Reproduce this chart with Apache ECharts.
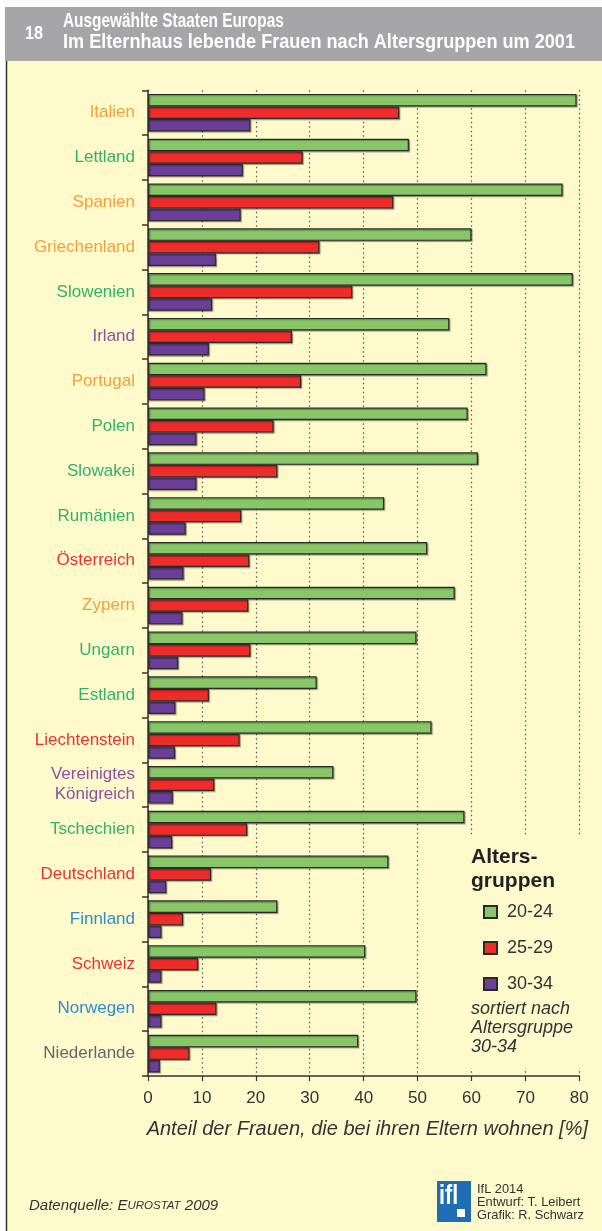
<!DOCTYPE html>
<html><head><meta charset="utf-8">
<script src="https://cdn.jsdelivr.net/npm/echarts@6/dist/echarts.min.js"></script>
<style>html,body{margin:0;padding:0;background:#fff}#c{width:602px;height:1231px}</style>
</head><body><div id="c"></div>
<script>
const countries = ['Italien','Lettland','Spanien','Griechenland','Slowenien','Irland','Portugal','Polen','Slowakei','Rumänien','Österreich','Zypern','Ungarn','Estland','Liechtenstein','Vereinigtes\nKönigreich','Tschechien','Deutschland','Finnland','Schweiz','Norwegen','Niederlande'];
const labelColors = ['#f5a03c','#2fb36a','#f5a03c','#f5a03c','#2fb36a','#8b52a3','#f5a03c','#2fb36a','#2fb36a','#2fb36a','#e8323a','#f5a03c','#2fb36a','#2fb36a','#e8323a','#8b52a3','#2fb36a','#e8323a','#2e8ccf','#e8323a','#2e8ccf','#666666'];
const age2024 = [79.5,48.4,76.9,60.0,78.8,55.9,62.8,59.3,61.2,43.8,51.8,56.9,49.8,31.3,52.6,34.4,58.7,44.6,24.0,40.3,49.8,39.0];
const age2529 = [46.6,28.7,45.5,31.8,37.9,26.7,28.4,23.3,24.0,17.3,18.8,18.6,19.0,11.3,17.0,12.3,18.4,11.7,6.5,9.3,12.7,7.7];
const age3034 = [19.0,17.6,17.2,12.6,11.9,11.3,10.5,9.0,9.0,7.0,6.6,6.4,5.6,5.1,5.0,4.6,4.5,3.4,2.5,2.5,2.5,2.2];
const groupNames = ['20-24','25-29','30-34'];
const groupColors = ['#87c767','#ee2c2a','#6b3f98'];
const xTicks = [0,10,20,30,40,50,60,70,80];

const chart = echarts.init(document.getElementById('c'), null, {renderer:'canvas'});
const font = "'Liberation Sans', Arial, Helvetica, sans-serif";
const cream = '#fffacc';
function mk(name, data, color){
  return {
    name, type:'bar', data, barCategoryGap:'16%', barGap:'0%', z:3,
    itemStyle:{color, borderColor:'#2a2a2a', borderWidth:1.2, shadowColor:'rgba(0,0,0,0.3)', shadowOffsetX:1.2, shadowOffsetY:1.2, shadowBlur:1},
    emphasis:{disabled:true}, animation:false
  };
}
function condensed(x, y, text, size, sx, extra){
  return Object.assign({type:'text', z:5, x:x, y:y, scaleX:sx, scaleY:1,
    style:{text:text, fill:'#fff', font:"bold "+size+"px "+font, textVerticalAlign:'middle'}}, extra||{});
}
chart.setOption({
  animation:false,
  backgroundColor:'#ffffff',
  textStyle:{fontFamily:font},
  grid:{left:148, right:22.7, top:90.3, bottom:155, containLabel:false},
  xAxis:{type:'value', min:0, max:80, interval:10,
    axisLine:{show:true, lineStyle:{color:'#333', width:1.5}},
    axisTick:{show:true, length:5, lineStyle:{color:'#333', width:1.2}},
    axisLabel:{color:'#333', fontSize:17, margin:14, fontFamily:font, formatter:v=>xTicks.includes(v)?String(v):''},
    splitLine:{show:true, lineStyle:{color:'#555', type:[1.5,3], width:1.2}}
  },
  yAxis:{type:'category', data:countries, inverse:true,
    axisLine:{show:true, lineStyle:{color:'#333', width:1.5}},
    axisTick:{show:true, length:6, lineStyle:{color:'#333', width:1.5}},
    axisLabel:{fontSize:17, margin:13, lineHeight:20, fontFamily:font, color:(v,i)=>labelColors[i]},
    splitLine:{show:false}
  },
  legend:{data:groupNames, orient:'vertical', left:478, top:898, itemWidth:13, itemHeight:12, itemGap:18,
    icon:'rect', textStyle:{color:'#333', fontSize:18, fontFamily:font, padding:[0,0,0,5]}, selectedMode:false, z:10},
  series:[mk(groupNames[0],age2024,groupColors[0]), mk(groupNames[1],age2529,groupColors[1]), mk(groupNames[2],age3034,groupColors[2])],
  graphic:[
    {type:'rect', z:-10, silent:true, shape:{x:6, y:61, width:596, height:1170}, style:{fill:cream}},
    {type:'rect', z:-9, silent:true, shape:{x:5, y:7, width:597, height:54}, style:{fill:'#a6a6a8'}},
    {type:'line', z:-8, silent:true, shape:{x1:6.5, y1:61, x2:6.5, y2:1231}, style:{stroke:'#333', lineWidth:1.5}},
    condensed(25, 34, '18', 19, 0.85),
    condensed(63, 21, 'Ausgewählte Staaten Europas', 20, 0.77),
    condensed(63, 42, 'Im Elternhaus lebende Frauen nach Altersgruppen um 2001', 20, 0.905),
    {type:'rect', z:1, silent:true, shape:{x:462, y:836, width:135, height:232}, style:{fill:cream}},
    {type:'text', z:5, left:471, top:845, style:{text:'Alters-\ngruppen', fill:'#222', font:"bold 21px "+font, lineHeight:24}},
    {type:'text', z:5, left:471, top:999, style:{text:'sortiert nach\nAltersgruppe\n30-34', fill:'#333', font:"italic 18px "+font, lineHeight:19}},
    {type:'text', z:5, right:14, top:1119, style:{text:'Anteil der Frauen, die bei ihren Eltern wohnen [%]', fill:'#333', font:"italic 20px "+font}},
    {type:'text', z:5, left:29, top:1198, style:{text:'{a|Datenquelle: E}{b|UROSTAT}{a| 2009}', rich:{a:{fill:'#333', font:"italic 15px "+font}, b:{fill:'#333', font:"italic 11.5px "+font}}}},
    {type:'rect', z:5, shape:{x:437, y:1181, width:34, height:41}, style:{fill:'#1f6db5'}},
    condensed(439, 1197, 'ifl', 27, 0.8, {z:6}),
    {type:'rect', z:6, shape:{x:457, y:1209, width:8, height:8}, style:{fill:'#fff'}},
    {type:'text', z:5, x:477, y:1183, scaleX:0.95, scaleY:1, style:{text:'IfL 2014\nEntwurf: T. Leibert\nGrafik: R. Schwarz', fill:'#333', font:"13.5px "+font, lineHeight:13}}
  ]
});
</script></body></html>
